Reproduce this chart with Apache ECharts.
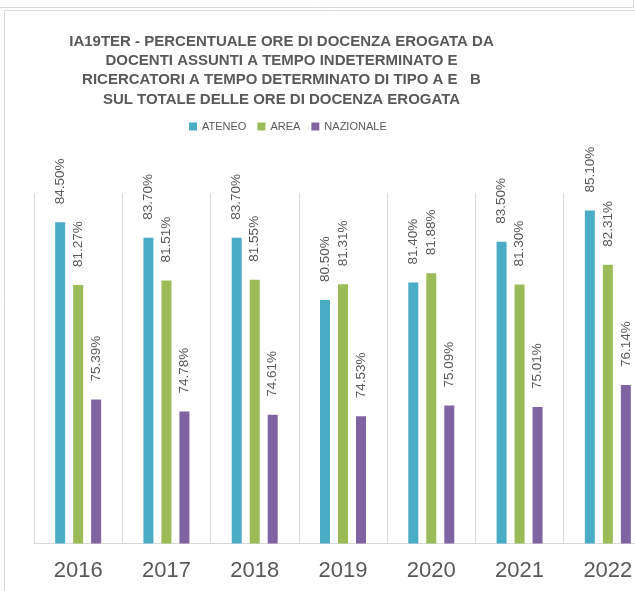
<!DOCTYPE html>
<html>
<head>
<meta charset="utf-8">
<script src="https://cdn.jsdelivr.net/npm/echarts@6/dist/echarts.min.js"></script>
<style>
  html, body { margin: 0; padding: 0; background: #fff; overflow: hidden; }
  /* the original chart is cut off on the right, so the canvas is wider than the window */
  #chart { width: 660px; height: 591px; }
</style>
</head>
<body>
<div id="chart"></div>
<script>
const years = ['2016', '2017', '2018', '2019', '2020', '2021', '2022'];
const ateneo = [84.50, 83.70, 83.70, 80.50, 81.40, 83.50, 85.10];
const area = [81.27, 81.51, 81.55, 81.31, 81.88, 81.30, 82.31];
const nazionale = [75.39, 74.78, 74.61, 74.53, 75.09, 75.01, 76.14];

const titleText = 'IA19TER - PERCENTUALE ORE DI DOCENZA EROGATA DA\n' +
  'DOCENTI ASSUNTI A TEMPO INDETERMINATO E\n' +
  'RICERCATORI A TEMPO DETERMINATO DI TIPO A E   B\n' +
  'SUL TOTALE DELLE ORE DI DOCENZA EROGATA';

const font = "'Liberation Sans', sans-serif";

// rotated value label sitting above each bar
function barLabel() {
  return {
    show: true,
    position: 'top',
    rotate: 90,
    align: 'left',
    verticalAlign: 'middle',
    distance: 18,
    color: '#595959',
    fontFamily: font,
    fontSize: 13.5,
    formatter: p => p.value.toFixed(2) + '%'
  };
}

const chart = echarts.init(document.getElementById('chart'));
chart.setOption({
  animation: false,
  backgroundColor: '#fff',
  title: {
    text: titleText,
    left: 281.5,
    top: 32,
    padding: 0,
    textAlign: 'center',
    textStyle: {
      fontFamily: font,
      fontSize: 15,
      fontWeight: 'bold',
      color: '#595959',
      lineHeight: 19.3
    }
  },
  legend: {
    left: 189,
    top: 121,
    padding: 0,
    itemWidth: 8,
    itemHeight: 8,
    itemGap: 11,
    icon: 'rect',
    textStyle: { fontFamily: font, fontSize: 11, color: '#595959' },
    data: ['ATENEO', 'AREA', 'NAZIONALE']
  },
  graphic: [
    { type: 'rect', shape: { x: -10, y: -20, width: 643.5, height: 27.5 },
      style: { fill: 'none', stroke: '#d9d9d9', lineWidth: 1 } },
    { type: 'rect', shape: { x: 4.5, y: 10.5, width: 700, height: 700 },
      style: { fill: 'none', stroke: '#d9d9d9', lineWidth: 1 } }
  ],
  grid: { left: 34, top: 193, width: 618, height: 350.5 },
  xAxis: {
    type: 'category',
    data: years,
    axisTick: { show: false },
    axisLine: { lineStyle: { color: '#d9d9d9', width: 1 } },
    splitLine: { show: true, lineStyle: { color: '#d9d9d9', width: 1 } },
    axisLabel: {
      margin: 16,
      fontFamily: font,
      fontSize: 22,
      color: '#595959'
    }
  },
  yAxis: {
    type: 'value',
    min: 68,
    max: 86,
    show: false,
    splitLine: { show: false }
  },
  series: [
    { name: 'ATENEO', type: 'bar', data: ateneo, barWidth: 10, barGap: '80%',
      itemStyle: { color: '#4bacc6' }, label: barLabel() },
    { name: 'AREA', type: 'bar', data: area, barWidth: 10, barGap: '80%',
      itemStyle: { color: '#9bbb59' }, label: barLabel() },
    { name: 'NAZIONALE', type: 'bar', data: nazionale, barWidth: 10, barGap: '80%',
      itemStyle: { color: '#8064a2' }, label: barLabel() }
  ]
});
</script>
</body>
</html>
